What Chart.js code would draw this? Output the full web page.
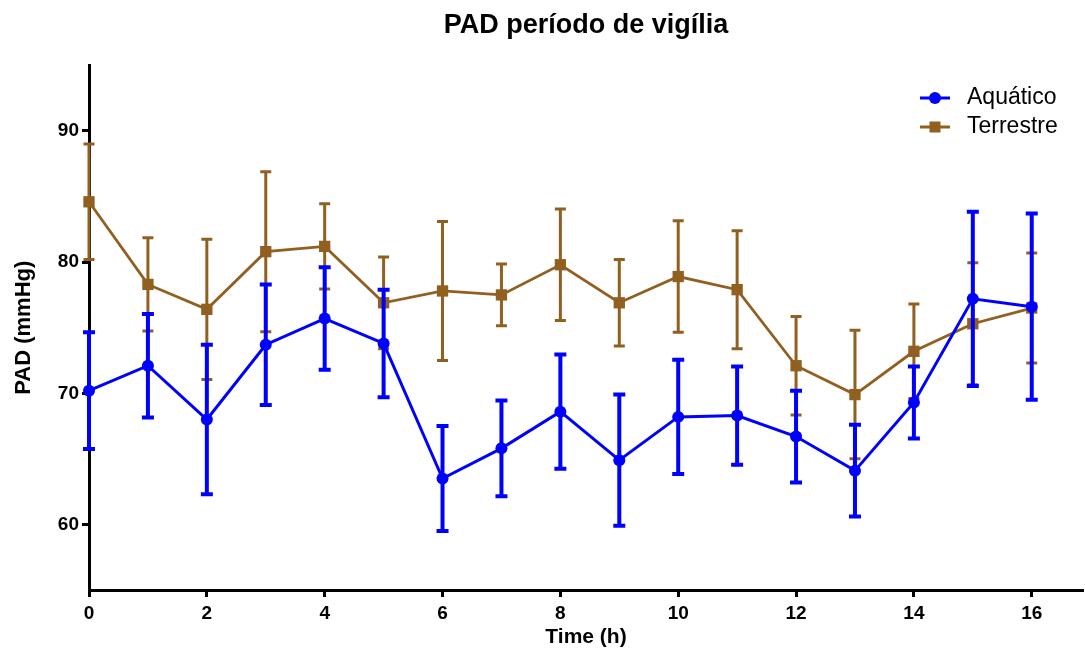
<!DOCTYPE html>
<html>
<head>
<meta charset="utf-8">
<script src="https://cdn.jsdelivr.net/npm/chart.js@4.4.1/dist/chart.umd.min.js"></script>
<style>
  html, body { margin: 0; padding: 0; background: #ffffff; }
  #wrap { width: 1085px; height: 652px; position: relative; }
</style>
</head>
<body>
<div id="wrap"><canvas id="c" width="1085" height="652"></canvas></div>
<script>
// ---- data ----
const hours = [0, 1, 2, 3, 4, 5, 6, 7, 8, 9, 10, 11, 12, 13, 14, 15, 16];
const aquaticoMean = [70.2, 72.1, 68.0, 73.7, 75.7, 73.8, 63.5, 65.8, 68.6, 64.9, 68.2, 68.3, 66.7, 64.1, 69.3, 77.2, 76.6];
const aquaticoSem  = [4.45, 3.95, 5.7, 4.6, 3.9, 4.1, 4.0, 3.65, 4.35, 5.0, 4.35, 3.75, 3.5, 3.5, 2.75, 6.65, 7.1];
const terrestreMean = [84.6, 78.3, 76.4, 80.8, 81.2, 76.9, 77.8, 77.5, 79.8, 76.9, 78.9, 77.9, 72.1, 69.9, 73.2, 75.3, 76.5];
const terrestreSem  = [4.4, 3.55, 5.35, 6.1, 3.25, 3.5, 5.3, 2.35, 4.25, 3.3, 4.25, 4.5, 3.75, 4.9, 3.6, 4.65, 4.2];
const xTickValues = [0, 2, 4, 6, 8, 10, 12, 14, 16];
const yTickValues = [60, 70, 80, 90];
const seriesNames = ['Aquático', 'Terrestre'];
const titleText = 'PAD período de vigília';
const xTitle = 'Time (h)';
const yTitle = 'PAD (mmHg)';

const BLUE = '#0000FF';
const BROWN = '#915F20';
const FONT = "'Liberation Sans', Arial, sans-serif";

const toPoints = (xs, ys) => xs.map((x, i) => ({ x: x, y: ys[i] }));

const errorBarPlugin = {
  id: 'errorBars',
  beforeDatasetDraw(chart, args) {
    const ds = chart.data.datasets[args.index];
    if (!ds.errors) return;
    const xs = chart.scales.x, ys = chart.scales.y;
    const ctx = chart.ctx;
    ctx.save();
    ctx.strokeStyle = ds.borderColor;
    ctx.lineWidth = ds.errLineWidth;
    ctx.lineCap = 'butt';
    ds.data.forEach((p, i) => {
      const e = ds.errors[i];
      const px = xs.getPixelForValue(p.x);
      const top = ys.getPixelForValue(p.y + e);
      const bot = ys.getPixelForValue(p.y - e);
      const hw = ds.capWidth / 2;
      ctx.beginPath();
      ctx.moveTo(px, top); ctx.lineTo(px, bot);
      ctx.moveTo(px - hw, top); ctx.lineTo(px + hw, top);
      ctx.moveTo(px - hw, bot); ctx.lineTo(px + hw, bot);
      ctx.stroke();
    });
    ctx.restore();
  }
};

const legendPlugin = {
  id: 'customLegend',
  afterDraw(chart) {
    const ctx = chart.ctx;
    const rows = [
      { name: seriesNames[0], color: BLUE, style: 'circle', y: 98 },
      { name: seriesNames[1], color: BROWN, style: 'rect', y: 127 }
    ];
    ctx.save();
    rows.forEach(r => {
      ctx.strokeStyle = r.color;
      ctx.fillStyle = r.color;
      ctx.lineWidth = 3;
      ctx.beginPath();
      ctx.moveTo(920, r.y); ctx.lineTo(950, r.y);
      ctx.stroke();
      if (r.style === 'circle') {
        ctx.beginPath(); ctx.arc(935, r.y, 6, 0, Math.PI * 2); ctx.fill();
      } else {
        ctx.fillRect(935 - 5.5, r.y - 5.5, 11, 11);
      }
      ctx.fillStyle = '#000';
      ctx.font = '23px ' + FONT;
      ctx.textBaseline = 'middle';
      ctx.textAlign = 'left';
      ctx.fillText(r.name, 967, r.y);
    });
    ctx.restore();
  }
};

new Chart(document.getElementById('c'), {
  type: 'line',
  data: {
    datasets: [
      {
        label: seriesNames[0],
        data: toPoints(hours, aquaticoMean),
        errors: aquaticoSem,
        errLineWidth: 4,
        capWidth: 12,
        borderColor: BLUE,
        backgroundColor: BLUE,
        borderWidth: 3,
        pointStyle: 'circle',
        pointRadius: 6,
        pointHoverRadius: 6,
        pointBorderWidth: 0,
        tension: 0,
        clip: false
      },
      {
        label: seriesNames[1],
        data: toPoints(hours, terrestreMean),
        errors: terrestreSem,
        errLineWidth: 3,
        capWidth: 11,
        borderColor: BROWN,
        backgroundColor: BROWN,
        borderWidth: 2.8,
        pointStyle: 'rect',
        pointRadius: 8,
        pointHoverRadius: 8,
        pointBorderWidth: 0,
        tension: 0,
        clip: false
      }
    ]
  },
  options: {
    responsive: false,
    animation: false,
    devicePixelRatio: 1,
    layout: { autoPadding: false, padding: { left: 0, right: 2, top: 0, bottom: 0 } },
    plugins: {
      legend: { display: false },
      tooltip: { enabled: false },
      title: {
        display: true,
        text: titleText,
        fullSize: false,
        color: '#000',
        font: { family: FONT, size: 27, weight: 'bold', lineHeight: 1.2 },
        padding: { top: 9, bottom: 24 }
      }
    },
    scales: {
      x: {
        type: 'linear',
        min: 0,
        max: 16.87,
        offset: false,
        afterBuildTicks: s => { s.ticks = xTickValues.map(v => ({ value: v })); },
        afterFit: s => { s.height = 62; s.paddingRight = 0; s.paddingLeft = 0; },
        grid: { drawOnChartArea: false, drawTicks: true, tickLength: 7, tickWidth: 3, tickColor: '#000' },
        border: { display: true, color: '#000', width: 3 },
        ticks: { color: '#000', padding: 5, maxRotation: 0, autoSkip: false,
                 font: { family: FONT, size: 19, weight: 'bold' } },
        title: { display: true, text: xTitle, color: '#000', padding: { top: 0, bottom: 2 },
                 font: { family: FONT, size: 21, weight: 'bold', lineHeight: 1.2 } }
      },
      y: {
        type: 'linear',
        min: 55,
        max: 95,
        afterBuildTicks: s => { s.ticks = yTickValues.map(v => ({ value: v })); },
        afterFit: s => { s.width = 89; s.paddingTop = 0; s.paddingBottom = 0; s.paddingRight = 0; },
        grid: { drawOnChartArea: false, drawTicks: true, tickLength: 7, tickWidth: 3, tickColor: '#000' },
        border: { display: true, color: '#000', width: 3 },
        ticks: { color: '#000', padding: 3, autoSkip: false,
                 font: { family: FONT, size: 19, weight: 'bold' } },
        title: { display: true, text: yTitle, color: '#000', padding: { top: 11, bottom: 0 },
                 font: { family: FONT, size: 22, weight: 'bold', lineHeight: 1.2 } }
      }
    }
  },
  plugins: [errorBarPlugin, legendPlugin]
});
</script>
</body>
</html>
